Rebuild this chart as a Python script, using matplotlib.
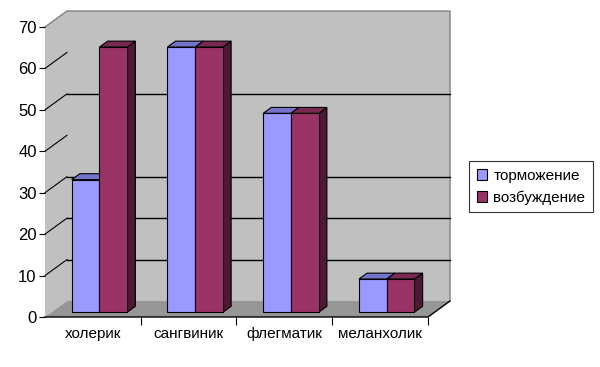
import matplotlib.pyplot as plt
from matplotlib.patches import Polygon, Patch

plt.rcParams['font.family'] = ['Liberation Sans', 'DejaVu Sans']

# data
categories = ['холерик', 'сангвиник', 'флегматик', 'меланхолик']
series_names = ['торможение', 'возбуждение']
tormozhenie = [32, 64, 48, 8]
vozbuzhdenie = [64, 64, 48, 8]
y_ticks = [0, 10, 20, 30, 40, 50, 60, 70]
back_grid = [10, 20, 30, 50]
side_grid = [10, 20, 30, 40, 50, 60]

front_colors = ['#9999ff', '#993366']
top_colors = ['#7373cc', '#7a2952']
side_colors = ['#4d4d80', '#4d1a33']

# depth of the fake 3d box, in data units
DX = 22 / 95.75
DY = 16 / 4.143
d0, d1 = 0.3, 0.67   # bar front / back depth as share of full depth
bw = 0.29

fig = plt.figure(figsize=(6, 3.67), dpi=100)
ax = fig.add_axes([45 / 600, 50 / 367, 383 / 600, 290 / 367])
ax.set_xlim(0, 4)
ax.set_ylim(0, 70)
for s in ax.spines.values():
    s.set_visible(False)

# walls and floor
wall = '#c0c0c0'
ax.add_patch(Polygon([(DX, DY), (4 + DX, DY), (4 + DX, 70 + DY), (DX, 70 + DY)],
                     closed=True, fc=wall, ec='none', clip_on=False, zorder=0))
ax.add_patch(Polygon([(0, 0), (DX, DY), (DX, 70 + DY), (0, 70)],
                     closed=True, fc=wall, ec='none', clip_on=False, zorder=0))
ax.plot([0, DX, 4 + DX, 4 + DX], [70, 70 + DY, 70 + DY, DY], color='#808080',
        lw=1, clip_on=False, zorder=1)
for g in back_grid:
    ax.plot([DX, 4 + DX], [g + DY, g + DY], color='black', lw=1, clip_on=False, zorder=1)
for g in side_grid:
    ax.plot([0, DX], [g, g + DY], color='black', lw=0.8, clip_on=False, zorder=1)
ax.add_patch(Polygon([(0, 0), (4, 0), (4 + DX, DY), (DX, DY)],
                     closed=True, fc='#969696', ec='none', clip_on=False, zorder=1))
ax.plot([0, 4, 4 + DX], [0, 0, DY], color='black', lw=1, clip_on=False, zorder=2)

# bars
sx0, sy0 = d0 * DX, d0 * DY
ddx, ddy = (d1 - d0) * DX, (d1 - d0) * DY
z = 3
for i in range(len(categories)):
    for k, vals in enumerate([tormozhenie, vozbuzhdenie]):
        v = vals[i]
        left = i + 0.5 - bw + k * bw + sx0
        right = left + bw
        top = v + sy0
        ax.add_patch(Polygon([(right, sy0), (right + ddx, sy0 + ddy),
                              (right + ddx, top + ddy), (right, top)],
                             closed=True, fc=side_colors[k], ec='black', lw=0.8,
                             clip_on=False, zorder=z))
        ax.add_patch(Polygon([(left, top), (right, top), (right + ddx, top + ddy),
                              (left + ddx, top + ddy)],
                             closed=True, fc=top_colors[k], ec='black', lw=0.8,
                             clip_on=False, zorder=z))
        ax.bar(left, v, bw, bottom=sy0, align='edge', color=front_colors[k],
               edgecolor='black', lw=0.8, zorder=z + 0.5, clip_on=False)
        z += 1

# axes ticks
ax.set_yticks(y_ticks)
ax.tick_params(axis='y', length=4, width=0.8, pad=2, labelsize=12, color='black')
ax.set_xticks([1, 2, 3, 4])
ax.set_xticklabels([])
ax.tick_params(axis='x', which='major', length=6, width=0.8, color='black')
ax.set_xticks([i + 0.5 for i in range(len(categories))], categories, minor=True)
ax.tick_params(axis='x', which='minor', length=0, pad=7, labelsize=11)

handles = [Patch(fc=front_colors[k], ec='black', lw=0.8) for k in range(2)]
leg = fig.legend(handles, series_names, loc='upper left',
                 bbox_to_anchor=(469 / 600, 1 - 161 / 367), fontsize=11,
                 frameon=True, fancybox=False, edgecolor='black',
                 handlelength=0.7, handleheight=0.7, handletextpad=0.4,
                 labelspacing=0.5, borderpad=0.5, borderaxespad=0)
leg.get_frame().set_linewidth(0.8)

fig.savefig('out.png', dpi=100, facecolor='white')
